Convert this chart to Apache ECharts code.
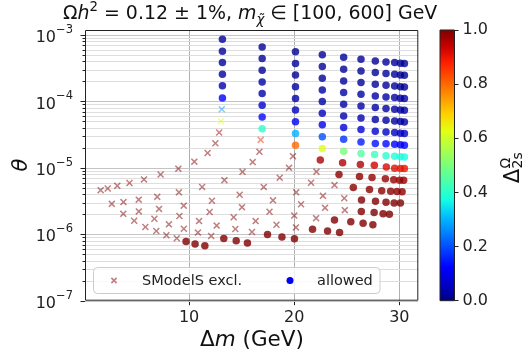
<!DOCTYPE html>
<html><head><meta charset="utf-8">
<script src="https://cdn.jsdelivr.net/npm/echarts@6/dist/echarts.min.js"></script>
<style>html,body{margin:0;padding:0;background:#fff}#c{width:524px;height:354px}</style>
</head><body><div id="c"></div>
<script>
// ---- tick values ----
const xTicks = [10, 20, 30];
const yMajor = [1e-7, 1e-6, 1e-5, 1e-4, 1e-3];
const yMinor = [2e-7,3e-7,4e-7,5e-7,6e-7,7e-7,8e-7,9e-7,
                2e-6,3e-6,4e-6,5e-6,6e-6,7e-6,8e-6,9e-6,
                2e-5,3e-5,4e-5,5e-5,6e-5,7e-5,8e-5,9e-5,
                2e-4,3e-4,4e-4,5e-4,6e-4,7e-4,8e-4,9e-4];
const cbTicks = [0, 0.2, 0.4, 0.6, 0.8, 1.0];
const legendNames = ['SModelS excl.', 'allowed'];

// ---- SModelS excluded points: [Δm (GeV), θ, Δ_2s^Ω] ----
const excl = [
 [1.59,4.62e-6,1],[2.26,4.90e-6,1],[3.17,5.36e-6,1],[4.33,5.93e-6,1],[5.71,6.70e-6,1],
 [7.29,7.96e-6,1],[8.98,9.73e-6,1],[2.65,2.87e-6,1],[3.76,3.05e-6,1],[5.21,3.32e-6,1],
 [6.97,3.66e-6,1],[9.03,4.28e-6,1],[3.74,2.03e-6,1],[5.22,2.21e-6,1],[7.14,2.41e-6,1],
 [9.49,2.70e-6,1],[4.78,1.60e-6,1],[6.70,1.71e-6,1],[9.08,1.88e-6,1],[5.84,1.29e-6,1],
 [8.08,1.41e-6,1],[6.88,1.12e-6,1],[9.50,1.21e-6,1],[7.84,9.66e-7,1],[8.83,8.71e-7,1],
 [10.50,1.24e-5,1],[11.76,1.67e-5,1],[12.50,2.35e-5,1],[12.86,3.41e-5,0.97],[13.02,5.04e-5,0.62],
 [13.11,7.64e-5,0.27],[16.81,2.64e-5,0.88],[16.69,1.75e-5,1],[16.05,1.22e-5,1],[15.08,8.71e-6,1],
 [13.36,6.53e-6,1],[11.24,5.16e-6,1],[12.17,3.20e-6,1],[14.81,3.94e-6,1],[15.03,2.56e-6,1],
 [11.95,2.17e-6,1],[17.10,5.13e-6,1],[18.62,7.08e-6,1],[19.50,1.00e-5,1],[17.98,3.24e-6,1],
 [10.95,1.58e-6,1],[14.24,1.80e-6,1],[12.62,1.35e-6,1],[16.33,1.58e-6,1],[18.31,1.39e-6,1],
 [14.40,1.20e-6,1],[10.84,1.06e-6,1],[12.10,9.40e-7,1],[15.98,1.08e-6,1],[19.88,1.50e-5,1],
 [17.65,2.18e-6,1],[20.19,4.28e-6,1],[20.65,2.83e-6,1],[20.00,1.91e-6,1],[20.16,1.27e-6,1],
 [22.11,8.77e-6,1],[21.60,5.98e-6,1],[22.73,3.79e-6,1],[22.93,2.50e-6,1],[22.08,1.75e-6,1],
 [23.83,5.50e-6,1],[24.76,3.48e-6,1],[24.81,2.31e-6,1]
];

// ---- allowed points: [Δm (GeV), θ, Δ_2s^Ω] ----
const allowed = [
 [13.17,8.61e-4,0.02],[13.17,5.69e-4,0.02],[13.17,3.85e-4,0.02],[13.17,2.56e-4,0.03],[13.17,1.73e-4,0.04],[13.17,1.13e-4,0.12],
 [16.95,6.60e-4,0.02],[16.95,4.42e-4,0.02],[16.95,2.94e-4,0.02],[16.95,1.96e-4,0.03],[16.95,1.32e-4,0.04],[16.95,8.77e-5,0.07],[16.95,5.85e-5,0.13],[16.95,3.88e-5,0.40],
 [20.12,5.58e-4,0.02],[20.12,3.72e-4,0.02],[20.12,2.49e-4,0.02],[20.12,1.66e-4,0.03],[20.12,1.11e-4,0.03],[20.12,7.43e-5,0.05],[20.12,4.95e-5,0.11],[20.12,3.30e-5,0.30],[20.12,2.19e-5,0.80],
 [22.67,5.04e-4,0.02],[22.67,3.36e-4,0.02],[22.67,2.23e-4,0.02],[22.67,1.49e-4,0.03],[22.67,9.96e-5,0.03],[22.67,6.65e-5,0.05],[22.67,4.44e-5,0.10],[22.67,2.94e-5,0.20],[22.67,1.96e-5,0.62],[22.48,1.31e-5,0.96],
 [24.70,4.62e-4,0.02],[24.70,3.05e-4,0.02],[24.70,2.03e-4,0.02],[24.70,1.36e-4,0.03],[24.70,9.08e-5,0.03],[24.70,6.05e-5,0.04],[24.70,4.05e-5,0.08],[24.70,2.70e-5,0.17],[24.70,1.78e-5,0.50],[24.60,1.19e-5,0.96],[24.26,7.96e-6,0.99],
 [26.35,4.31e-4,0.02],[26.35,2.87e-4,0.02],[26.35,1.92e-4,0.02],[26.35,1.28e-4,0.03],[26.35,8.55e-5,0.03],[26.35,5.65e-5,0.04],[26.35,3.78e-5,0.08],[26.35,2.46e-5,0.15],[26.35,1.65e-5,0.45],[26.29,1.12e-5,0.96],[26.21,7.38e-6,0.99],
 [27.71,4.06e-4,0.02],[27.71,2.72e-4,0.02],[27.71,1.81e-4,0.02],[27.71,1.21e-4,0.03],[27.71,8.09e-5,0.03],[27.71,5.35e-5,0.03],[27.71,3.56e-5,0.07],[27.71,2.33e-5,0.14],[27.64,1.59e-5,0.42],[27.62,1.09e-5,0.93],[27.40,7.13e-6,0.98],
 [28.73,3.93e-4,0.02],[28.73,2.63e-4,0.02],[28.73,1.75e-4,0.02],[28.73,1.17e-4,0.03],[28.73,7.82e-5,0.03],[28.73,5.21e-5,0.03],[28.73,3.48e-5,0.06],[28.73,2.30e-5,0.13],[28.73,1.52e-5,0.40],[28.76,1.03e-5,0.92],[28.67,6.88e-6,0.98],
 [29.55,3.85e-4,0.02],[29.55,2.56e-4,0.02],[29.55,1.71e-4,0.02],[29.55,1.15e-4,0.03],[29.55,7.64e-5,0.03],[29.55,5.09e-5,0.03],[29.55,3.41e-5,0.06],[29.55,2.27e-5,0.12],[29.55,1.50e-5,0.39],[29.55,9.89e-6,0.91],[29.46,6.65e-6,0.98],
 [30.10,3.75e-4,0.02],[30.10,2.50e-4,0.02],[30.10,1.67e-4,0.02],[30.10,1.12e-4,0.03],[30.10,7.45e-5,0.03],[30.10,4.99e-5,0.03],[30.10,3.33e-5,0.06],[30.10,2.22e-5,0.12],[30.10,1.47e-5,0.38],[30.10,9.79e-6,0.90],[30.03,6.53e-6,0.98],
 [30.48,3.72e-4,0.02],[30.48,2.48e-4,0.02],[30.48,1.65e-4,0.02],[30.48,1.11e-4,0.03],[30.48,7.38e-5,0.03],[30.48,4.92e-5,0.03],[30.48,3.29e-5,0.06],[30.48,2.19e-5,0.12],[30.48,1.46e-5,0.38],[30.48,9.79e-6,0.90],[30.41,6.53e-6,0.98],
 [25.62,5.07e-6,0.99],[27.16,4.73e-6,0.99],[28.32,4.54e-6,0.99],[29.17,4.44e-6,0.99],[29.78,4.39e-6,0.99],[30.26,4.36e-6,0.99],
 [26.40,3.27e-6,1],[27.73,3.13e-6,1],[28.73,3.03e-6,1],[29.50,2.96e-6,1],[30.10,2.96e-6,1],
 [26.38,2.21e-6,1],[27.60,2.12e-6,1],[28.45,2.03e-6,1],[29.05,2.00e-6,1],
 [23.83,1.64e-6,1],[25.38,1.54e-6,1],[26.55,1.46e-6,1],[27.48,1.39e-6,1],
 [21.74,1.19e-6,1],[23.17,1.12e-6,1],[24.31,1.06e-6,1],
 [17.46,9.89e-7,1],[18.83,9.08e-7,1],[20.02,8.53e-7,1],
 [9.71,7.77e-7,1],[10.57,7.13e-7,1],[11.50,6.71e-7,1],[13.30,8.67e-7,1],[14.48,7.96e-7,1],[15.55,7.38e-7,1]
];

// jet colormap stops (0 → 1)
const jet = ['#000080','#0000c8','#0000ff','#0040ff','#0080ff','#00bfff','#15ffe2','#48ffaf',
             '#7bff7b','#afff48','#e2ff15','#ffd200','#ff9700','#ff5c00','#ff2100','#c80000','#800000'];

const FONT = 'DejaVu Sans';
const crossPath = 'path://M1.5,0 L5,3.5 L8.5,0 L10,1.5 L6.5,5 L10,8.5 L8.5,10 L5,6.5 L1.5,10 L0,8.5 L3.5,5 L0,1.5 Z';

// gridline / tick helper data: [x, y, kind]
const gridData = [];
xTicks.forEach(x => gridData.push([x, yMajor[2], 0]));
yMinor.forEach(y => gridData.push([xTicks[0], y, 2]));
yMajor.forEach(y => gridData.push([xTicks[0], y, 1]));
gridData.push([xTicks[0], yMajor[2], 3]);

function renderGrid(params, api) {
  const cs = params.coordSys;
  const L = cs.x, R = cs.x + cs.width, T = cs.y, B = cs.y + cs.height;
  const kind = api.value(2);
  const p = api.coord([api.value(0), api.value(1)]);
  if (kind === 0) {
    const x = Math.round(p[0]) + 0.5;
    return {type: 'group', children: [
      {type: 'line', shape: {x1: x, y1: T, x2: x, y2: B}, style: {stroke: '#b0b0b0', lineWidth: 1}},
      {type: 'line', shape: {x1: x, y1: B, x2: x, y2: B + 4.5}, style: {stroke: '#222', lineWidth: 1}}
    ]};
  }
  if (kind === 1 || kind === 2) {
    const y = Math.round(p[1]) + 0.5;
    const major = kind === 1;
    return {type: 'group', children: [
      {type: 'line', shape: {x1: L, y1: y, x2: R, y2: y}, style: {stroke: major ? '#c4c4c4' : '#dedede', lineWidth: 1}},
      {type: 'line', shape: {x1: L - (major ? 4.5 : 2.5), y1: y, x2: L, y2: y}, style: {stroke: '#222', lineWidth: 1}}
    ]};
  }
  return {type: 'rect', shape: {x: L + 0.5, y: T + 0.5, width: cs.width - 1, height: cs.height - 1},
          style: {fill: 'none', stroke: '#222', lineWidth: 1}};
}

function renderColorbar(params, api) {
  const cs = params.coordSys;
  const top = api.coord([0, cbTicks[cbTicks.length - 1]])[1];
  const bot = api.coord([0, cbTicks[0]])[1];
  return {type: 'rect', shape: {x: cs.x, y: top, width: cs.width, height: bot - top},
    style: {fill: new echarts.graphic.LinearGradient(0, 1, 0, 0,
              jet.map((c, i) => ({offset: i / (jet.length - 1), color: c}))),
            stroke: '#222', lineWidth: 1}};
}

function fmtPow(v) {
  const lg = Math.log10(v), e = Math.round(lg);
  if (Math.abs(lg - e) > 1e-6) return '';
  return '{b|10}{s|' + (e < 0 ? '\u2212' : '') + Math.abs(e) + '}';
}

const chart = echarts.init(document.getElementById('c'), null, {renderer: 'canvas'});
chart.setOption({
  animation: false,
  backgroundColor: '#fff',
  grid: [
    {left: 85, right: 105.7, top: 30, bottom: 53.3, show: false},
    {left: 440, width: 14.5, top: 30, bottom: 53.3, show: false}
  ],
  xAxis: [
    {type: 'value', gridIndex: 0, min: 0.1, max: 31.8,
     splitLine: {show: false}, axisLine: {show: false}, axisTick: {show: false},
     axisLabel: {customValues: xTicks, fontFamily: FONT, fontSize: 16, color: '#222', margin: 9}},
    {type: 'category', gridIndex: 1, data: ['cb'], show: false}
  ],
  yAxis: [
    {type: 'log', logBase: 10, gridIndex: 0, min: yMajor[0], max: 1.19e-3,
     splitLine: {show: false}, axisLine: {show: false}, axisTick: {show: false},
     axisLabel: {formatter: fmtPow, margin: 12, color: '#222',
       rich: {b: {fontFamily: FONT, fontSize: 16, color: '#222', lineHeight: 22, verticalAlign: 'bottom'},
              s: {fontFamily: FONT, fontSize: 11.5, color: '#222', verticalAlign: 'top'}}}},
    {type: 'value', gridIndex: 1, min: cbTicks[0], max: cbTicks[cbTicks.length - 1], interval: 0.2,
     position: 'right', splitLine: {show: false}, axisLine: {show: false},
     axisTick: {show: true, length: 4, lineStyle: {color: '#222', width: 1}},
     axisLabel: {formatter: v => v.toFixed(1), fontFamily: FONT, fontSize: 16, color: '#222', margin: 8}}
  ],
  visualMap: [{type: 'continuous', show: false, min: 0, max: 1, dimension: 2,
               seriesIndex: [1, 2], inRange: {color: jet}}],
  series: [
    {type: 'custom', xAxisIndex: 0, yAxisIndex: 0, z: 1, silent: true, clip: false,
     encode: {x: 0, y: 1}, renderItem: renderGrid, data: gridData},
    {type: 'scatter', name: legendNames[0], xAxisIndex: 0, yAxisIndex: 0, z: 3,
     symbol: crossPath, symbolSize: 7, itemStyle: {color: '#800000', opacity: 0.5}, data: excl},
    {type: 'scatter', name: legendNames[1], xAxisIndex: 0, yAxisIndex: 0, z: 4,
     symbol: 'circle', symbolSize: 7.5, itemStyle: {color: '#0000ff'}, data: allowed},
    {type: 'custom', xAxisIndex: 1, yAxisIndex: 1, silent: true, clip: false,
     renderItem: renderColorbar, data: [[0, 0]]}
  ],
  graphic: [
    // title
    {type: 'text', x: 63, y: 14, silent: true,
     style: {text: '{r|\u03a9}{i|h}{sup|2}{r| = 0.12 \u00b1 1%, }{i|m}{sub|\u03c7\u0303}{r| \u2208 [100, 600] GeV}',
       align: 'left', verticalAlign: 'middle',
       rich: {r: {fontFamily: FONT, fontSize: 18.95, lineHeight: 26, fill: '#111'},
              i: {fontFamily: FONT, fontStyle: 'italic', fontSize: 18.95, lineHeight: 26, fill: '#111'},
              sup: {fontFamily: FONT, fontSize: 13.3, verticalAlign: 'top', fill: '#111'},
              sub: {fontFamily: FONT, fontStyle: 'italic', fontSize: 13.3, verticalAlign: 'bottom', fill: '#111'}}}},
    // x axis title
    {type: 'text', x: 252, y: 340, silent: true,
     style: {text: '{r|\u0394}{i|m}{r| (GeV)}', align: 'center', verticalAlign: 'middle',
       rich: {r: {fontFamily: FONT, fontSize: 21.5, fill: '#111'},
              i: {fontFamily: FONT, fontStyle: 'italic', fontSize: 21.5, fill: '#111'}}}},
    // y axis title
    {type: 'text', x: 22, y: 165, rotation: Math.PI / 2, silent: true,
     style: {text: '\u03b8', font: 'italic 21px "DejaVu Sans"', fill: '#111', align: 'center', verticalAlign: 'middle'}},
    // colorbar title
    {type: 'group', x: 514, y: 170, rotation: Math.PI / 2, silent: true, children: [
      {type: 'text', x: 1, y: 0, style: {text: '\u0394', font: '21px "DejaVu Sans"', fill: '#111', align: 'right', verticalAlign: 'middle'}},
      {type: 'text', x: 1.5, y: 4, style: {text: '2s', font: '14px "DejaVu Sans"', fill: '#111', align: 'left', verticalAlign: 'middle'}},
      {type: 'text', x: 1.5, y: -8, style: {text: '\u03a9', font: '14px "DejaVu Sans"', fill: '#111', align: 'left', verticalAlign: 'middle'}}
    ]},
    // legend
    {type: 'group', silent: true, z: 100, children: [
      {type: 'rect', z: 100, shape: {x: 93.5, y: 267.5, width: 286.5, height: 26, r: 4},
       style: {fill: 'rgba(255,255,255,0.8)', stroke: '#cccccc', lineWidth: 1}},
      {type: 'line', z: 101, shape: {x1: 111.4, y1: 277.9, x2: 116.6, y2: 283.1}, style: {stroke: '#c08080', lineWidth: 1.6}},
      {type: 'line', z: 101, shape: {x1: 111.4, y1: 283.1, x2: 116.6, y2: 277.9}, style: {stroke: '#c08080', lineWidth: 1.6}},
      {type: 'circle', z: 101, shape: {cx: 290, cy: 280.5, r: 3.5}, style: {fill: '#0000ff'}},
      {type: 'text', z: 101, x: 142, y: 281, style: {text: legendNames[0], font: '14.5px "DejaVu Sans"', fill: '#222', align: 'left', verticalAlign: 'middle'}},
      {type: 'text', z: 101, x: 317, y: 281, style: {text: legendNames[1], font: '14.5px "DejaVu Sans"', fill: '#222', align: 'left', verticalAlign: 'middle'}}
    ]}
  ]
});
</script></body></html>
